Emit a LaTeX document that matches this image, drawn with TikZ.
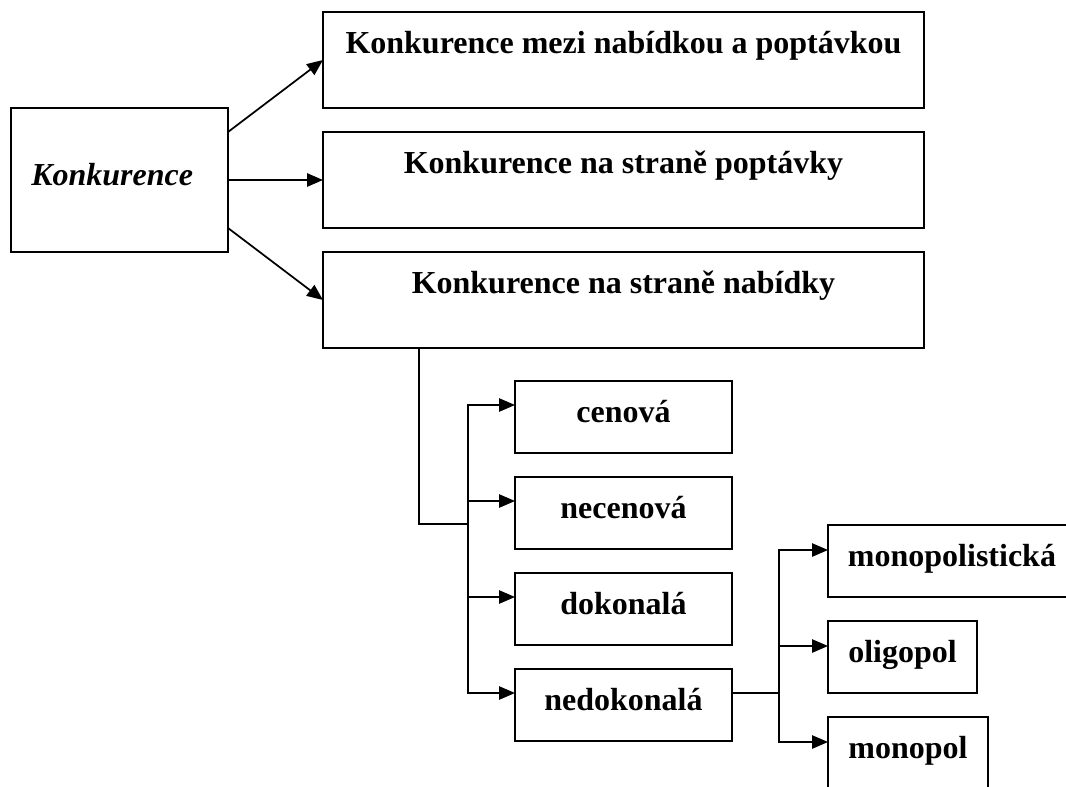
\documentclass[tikz,border=0pt]{standalone}
\usepackage{fontspec}
\setmainfont{Liberation Serif}
\usetikzlibrary{arrows.meta,calc}
\begin{document}
\begin{tikzpicture}[x=0.75pt,y=-0.75pt,
  box/.style={draw,line width=1.4pt,inner sep=0pt,outer sep=0pt,fill=white},
  bigbox/.style={box,minimum width=450.75pt,minimum height=72pt},
  subbox/.style={box,minimum width=162.75pt,minimum height=54pt},
  lbl/.style={inner sep=0pt,anchor=base,font=\fontsize{24pt}{28pt}\selectfont\bfseries},
  wire/.style={line width=1.3pt},
  arr/.style={wire,-{Triangle[length=12pt,width=10pt]}}]
\useasboundingbox (0,0) rectangle (1066,786);

% root
\node[box,minimum width=162.75pt,minimum height=108pt] (K) at (119.5,180) {};
\node[lbl,anchor=base west,font=\fontsize{24pt}{28pt}\selectfont\bfseries\itshape] (tK) at (31,185) {Konkurence};

% first level
\node[bigbox] (B1) at (623.5,60) {};
\node[bigbox] (B2) at (623.5,180) {};
\node[bigbox] (B3) at (623.5,300) {};
\node[lbl] (tB1) at ($(B1.north)+(0,41)$) {Konkurence mezi nabídkou a poptávkou};
\node[lbl] (tB2) at ($(B2.north)+(0,41)$) {Konkurence na straně poptávky};
\node[lbl] (tB3) at ($(B3.north)+(0,41)$) {Konkurence na straně nabídky};

% second level
\node[subbox] (C1) at (623.5,417) {};
\node[subbox] (C2) at (623.5,513) {};
\node[subbox] (C3) at (623.5,609) {};
\node[subbox] (C4) at (623.5,705) {};
\node[lbl] (tC1) at ($(C1.north)+(0,41)$) {cenová};
\node[lbl] (tC2) at ($(C2.north)+(0,41)$) {necenová};
\node[lbl] (tC3) at ($(C3.north)+(0,41)$) {dokonalá};
\node[lbl] (tC4) at ($(C4.north)+(0,41)$) {nedokonalá};

% third level
\node[box,minimum width=186pt,minimum height=54pt] (M1) at (952,561) {};
\node[box,minimum width=111.75pt,minimum height=54pt] (M2) at (902.5,657) {};
\node[box,minimum width=120pt,minimum height=54pt] (M3) at (908,753) {};
\node[lbl] (tM1) at ($(M1.north)+(0,41)$) {monopolistická};
\node[lbl] (tM2) at ($(M2.north)+(0,41)$) {oligopol};
\node[lbl] (tM3) at ($(M3.north)+(0,41)$) {monopol};

% root arrows
\draw[arr] ([yshift=-18pt]K.north east) -- (B1.west);
\draw[arr] (K.east) -- (B2.west);
\draw[arr] ([yshift=18pt]K.south east) -- (B3.west);

% supply-side branch
\coordinate (j1) at (468,524);
\draw[wire] ([xshift=72pt]B3.south west) |- (j1);
\foreach \n in {C1,C2,C3,C4}
  \draw[arr] (j1) |- ([yshift=-18pt]\n.north west);

% imperfect competition branch
\coordinate (j2) at (779,693);
\draw[wire] ([yshift=-18pt]C4.north east) -- (j2);
\foreach \n in {M1,M2,M3}
  \draw[arr] (j2) |- ([yshift=-18.75pt]\n.north west);
\end{tikzpicture}
\end{document}
